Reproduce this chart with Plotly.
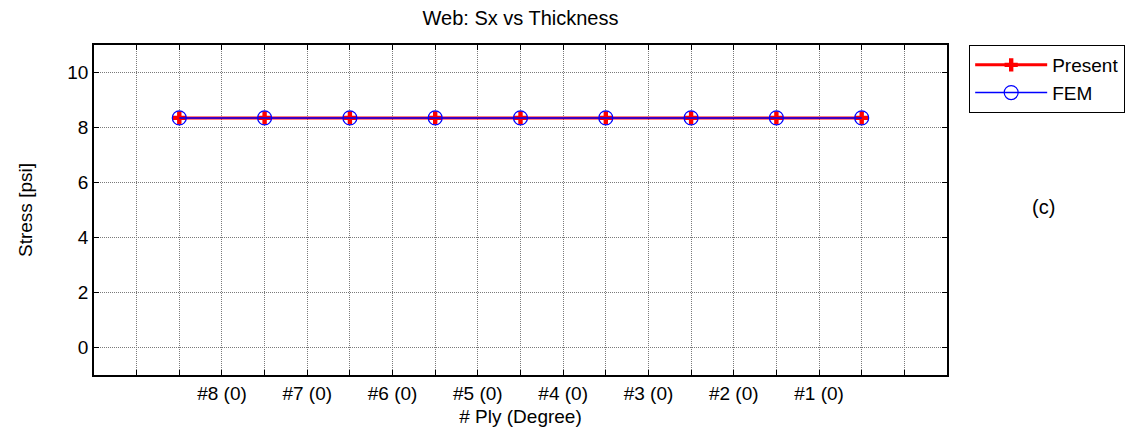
import plotly.graph_objects as go

ply_pos = [0, 1, 2, 3, 4, 5, 6, 7, 8]
present = [8.35, 8.35, 8.35, 8.35, 8.35, 8.35, 8.35, 8.35, 8.35]
fem = [8.35, 8.35, 8.35, 8.35, 8.35, 8.35, 8.35, 8.35, 8.35]
tick_labels = ["#8 (0)", "#7 (0)", "#6 (0)", "#5 (0)", "#4 (0)", "#3 (0)", "#2 (0)", "#1 (0)"]
label_pos = [0.5, 1.5, 2.5, 3.5, 4.5, 5.5, 6.5, 7.5]

font = "Liberation Sans, Arial, sans-serif"
FS = 19

fig = go.Figure()
fig.add_trace(go.Scatter(
    x=ply_pos, y=present, name="Present", mode="lines+markers",
    line=dict(color="#ff0000", width=3),
    marker=dict(symbol="cross", size=11, color="#ff0000"),
))
fig.add_trace(go.Scatter(
    x=ply_pos, y=fem, name="FEM", mode="lines+markers",
    line=dict(color="#0000ff", width=1.5),
    marker=dict(symbol="circle-open", size=14, color="#0000ff", line=dict(width=1.2)),
))

# grid every 0.5, labels only at the half positions
grid_vals = [v / 2 for v in range(-2, 19)]
grid_text = []
for v in grid_vals:
    if v in label_pos:
        grid_text.append(tick_labels[label_pos.index(v)])
    else:
        grid_text.append("")

grid_col = "#7a7a7a"
grid_dash = "1px,1px"

fig.update_layout(
    width=1135, height=434,
    margin=dict(l=94, r=188, t=45, b=59, autoexpand=False),
    paper_bgcolor="white", plot_bgcolor="white",
    font=dict(family=font, size=FS, color="black"),
    title=dict(text="Web: Sx vs Thickness", x=(94 + 947) / 2 / 1135, xanchor="center",
               y=1 - 18 / 434, yanchor="middle", font=dict(size=20)),
    legend=dict(x=1.026, y=1.0, xanchor="left", yanchor="top",
                bordercolor="black", borderwidth=1, bgcolor="white",
                font=dict(size=FS), itemwidth=72, tracegroupgap=0),
    showlegend=True,
)
fig.update_xaxes(
    range=[-1, 9], tickmode="array", tickvals=grid_vals, ticktext=grid_text,
    showgrid=True, gridcolor=grid_col, griddash=grid_dash, gridwidth=1,
    showline=True, linecolor="black", linewidth=1.5, mirror="ticks",
    ticks="inside", ticklen=5, tickcolor="black", zeroline=False,
    title=dict(text="# Ply (Degree)", font=dict(size=FS), standoff=7),
    tickfont=dict(size=FS),
)
fig.update_yaxes(
    range=[-1, 11], tickmode="array", tickvals=[0, 2, 4, 6, 8, 10],
    showgrid=True, gridcolor=grid_col, griddash=grid_dash, gridwidth=1,
    showline=True, linecolor="black", linewidth=1.5, mirror="ticks",
    ticks="inside", ticklen=5, tickcolor="black", zeroline=False,
    title=dict(text="Stress [psi]", font=dict(size=FS), standoff=30),
    tickfont=dict(size=FS),
)
fig.add_annotation(text="(c)", xref="paper", yref="paper",
                   x=(1057 - 94) / 853, y=(375 - 207) / 330,
                   showarrow=False, font=dict(size=20))

fig.write_html("out.html")
